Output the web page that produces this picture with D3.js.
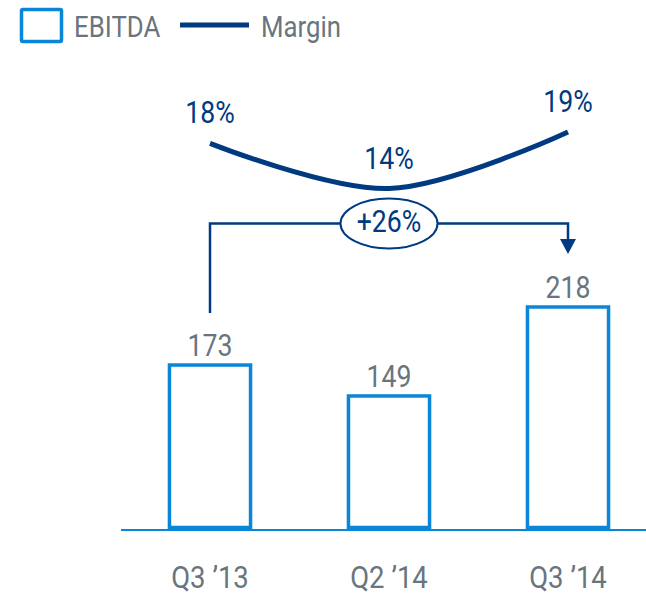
<!DOCTYPE html>
<html>
<head>
<meta charset="utf-8">
<script src="https://cdn.jsdelivr.net/npm/d3@7"></script>
<style>
  html, body { margin: 0; padding: 0; background: #fff; }
  svg { display: block; font-family: Roboto, "Noto Sans", sans-serif; }
</style>
</head>
<body>
<svg id="chart" width="646" height="594"></svg>
<script>
// data
const quarters = ["Q3 \u201913", "Q2 \u201914", "Q3 \u201914"];
const ebitda = [173, 149, 218];
const margin = [18, 14, 19];
const growthLabel = "+26%";

// constants
const width = 646, height = 594;
const blue = "#0a86d8", navy = "#003a80", grey = "#69757e";
const squeeze = 0.86; // narrow type like the original

const svg = d3.select("#chart");

/// scales ///
const x = d3.scaleBand()
  .domain(quarters)
  .range([120.5, 657.5])
  .paddingInner(0.547)
  .paddingOuter(0.2735);
const cx = q => x(q) + x.bandwidth() / 2;

// bars sit on a truncated axis
const y = d3.scaleLinear().domain([47, 218]).range([527.5, 307]);
// margin line
const yM = d3.scaleLinear().domain([14, 19]).range([188.5, 132]);

function label(g, txt, px, py, size, color, anchor) {
  return g.append("text")
    .attr("transform", `translate(${px},${py}) scale(${squeeze},1)`)
    .attr("text-anchor", anchor || "middle")
    .attr("font-size", size)
    .attr("fill", color)
    .text(txt);
}

/// legend ///
const lg = svg.append("g");
lg.append("rect").attr("x", 21.5).attr("y", 9.5).attr("width", 40).attr("height", 32)
  .attr("rx", 1.5).attr("fill", "none").attr("stroke", blue).attr("stroke-width", 3.5);
label(lg, "EBITDA", 74, 37, 30, grey, "start");
lg.append("line").attr("x1", 180).attr("x2", 249).attr("y1", 25).attr("y2", 25)
  .attr("stroke", navy).attr("stroke-width", 5);
label(lg, "Margin", 261, 37, 30, grey, "start");

/// bars ///
svg.append("g").selectAll("rect")
  .data(quarters)
  .join("rect")
    .attr("x", d => x(d))
    .attr("y", (d, i) => y(ebitda[i]))
    .attr("width", x.bandwidth())
    .attr("height", (d, i) => y.range()[0] - y(ebitda[i]))
    .attr("fill", "#fff")
    .attr("stroke", blue)
    .attr("stroke-width", 3.5);

const vals = svg.append("g");
quarters.forEach((q, i) => label(vals, ebitda[i], cx(q), y(ebitda[i]) - 9, 31, grey));

/// x axis ///
const xAxis = svg.append("g")
  .attr("transform", "translate(0,529.5)")
  .call(d3.axisBottom(x).tickSize(0).tickSizeOuter(0));
xAxis.select(".domain").attr("stroke", blue).attr("stroke-width", 2);
xAxis.selectAll(".tick text")
  .attr("y", 58.5).attr("dy", 0)
  .attr("transform", `scale(${squeeze},1)`)
  .attr("font-size", 32)
  .attr("font-family", "Roboto, sans-serif")
  .attr("fill", grey);

/// margin line ///
const line = d3.line()
  .x((d, i) => cx(quarters[i]))
  .y(d => yM(d))
  .curve(d3.curveCatmullRom);
svg.append("path")
  .datum(margin)
  .attr("d", line)
  .attr("fill", "none")
  .attr("stroke", navy)
  .attr("stroke-width", 5);

const ml = svg.append("g");
margin.forEach((m, i) => label(ml, m + "%", cx(quarters[i]), yM(m) - 20, 31, navy));

/// growth bracket ///
const first = quarters[0], last = quarters[quarters.length - 1];
const by = 223.5;
const br = svg.append("g").attr("stroke", navy).attr("fill", "none").attr("stroke-width", 2.5);
const tipY = y(ebitda[ebitda.length - 1]) - 53;
br.append("path")
  .attr("d", `M${cx(first)},${y(ebitda[0]) - 52}V${by}H${cx(last)}V${tipY - 14}`);
svg.append("path")
  .attr("d", `M${cx(last) - 8},${tipY - 15}L${cx(last) + 8},${tipY - 15}L${cx(last)},${tipY}Z`)
  .attr("fill", navy);

const mid = (cx(first) + cx(last)) / 2;
svg.append("ellipse")
  .attr("cx", mid).attr("cy", by).attr("rx", 48.5).attr("ry", 25)
  .attr("fill", "#fff").attr("stroke", navy).attr("stroke-width", 2);
label(svg, growthLabel, mid, 232, 31, navy);
</script>
</body>
</html>
